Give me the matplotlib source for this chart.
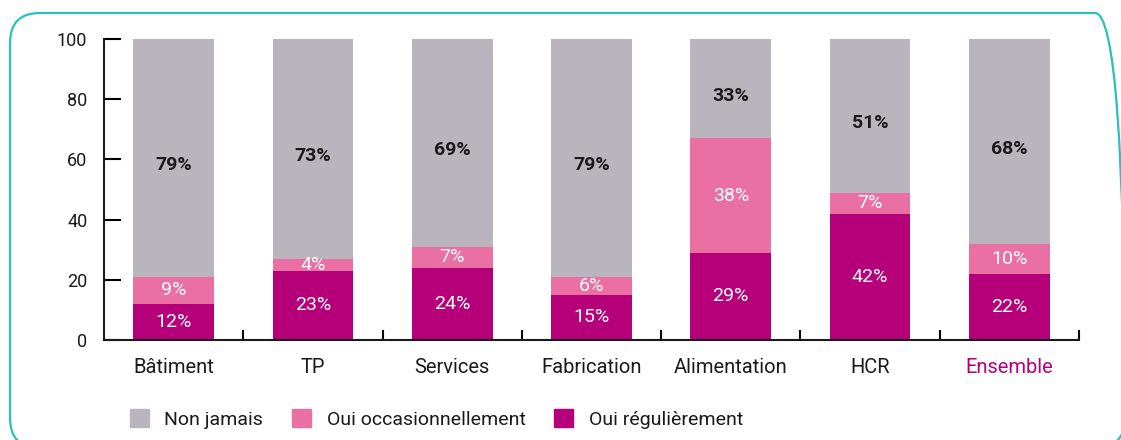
import matplotlib
matplotlib.use("Agg")
import matplotlib.pyplot as plt
from matplotlib.patches import FancyBboxPatch, Patch
import numpy as np

plt.rcParams['font.family'] = ['Roboto', 'DejaVu Sans']

categories = ["Bâtiment", "TP", "Services", "Fabrication", "Alimentation", "HCR", "Ensemble"]
regulierement = [12, 23, 24, 15, 29, 42, 22]
occasionnellement = [9, 4, 7, 6, 38, 7, 10]
non_jamais = [79, 73, 69, 79, 33, 51, 68]
yticks = [0, 20, 40, 60, 80, 100]

c_gray = "#BAB5BD"
c_pink = "#EA70A3"
c_mag = "#B5007A"
c_text = "#1a1a1a"

W, H = 1121, 440
fig = plt.figure(figsize=(W / 100, H / 100), dpi=100)

# rounded frame drawn in pixel coordinates (y measured from bottom)
bg = fig.add_axes([0, 0, 1, 1], zorder=-1)
bg.set_xlim(0, W)
bg.set_ylim(0, H)
bg.axis("off")
bg.add_patch(FancyBboxPatch((10, H - 448), 1125 - 10, 448 - 13,
                            boxstyle="round,pad=0,rounding_size=30",
                            fill=False, edgecolor="#2CBFC0", linewidth=1.6,
                            clip_on=False))

ax = fig.add_axes([104 / W, 1 - 340 / H, (1079 - 104) / W, (340 - 39) / H])
x = np.arange(len(categories))
bw = 0.58
b1 = np.array(regulierement)
b2 = b1 + np.array(occasionnellement)
ax.bar(x, regulierement, bw, color=c_mag, zorder=2)
ax.bar(x, occasionnellement, bw, bottom=b1, color=c_pink, zorder=2)
ax.bar(x, non_jamais, bw, bottom=b2, color=c_gray, zorder=2)

fs = 14
for i in range(len(categories)):
    ax.text(x[i], regulierement[i] / 2, f"{regulierement[i]}%", ha="center", va="center",
            color="white", fontsize=fs)
    ax.text(x[i], b1[i] + occasionnellement[i] / 2, f"{occasionnellement[i]}%", ha="center",
            va="center", color="white", fontsize=fs)
    ax.text(x[i], b2[i] + non_jamais[i] / 2 - 2.5, f"{non_jamais[i]}%", ha="center", va="center",
            color=c_text, fontsize=fs, fontweight="bold")

ax.set_xlim(-0.5, len(categories) - 0.5)
ax.set_ylim(0, 100)
ax.set_yticks(yticks)
ax.tick_params(axis="y", direction="in", length=12, width=1.5, pad=12, labelsize=13,
               labelcolor=c_text)
ax.set_xticks(x)
ax.set_xticklabels(categories)
ax.tick_params(axis="x", which="major", length=0, pad=13, labelsize=14.5, labelcolor=c_text)
ax.set_xticks(np.arange(len(categories)) + 0.5, minor=True)
ax.tick_params(axis="x", which="minor", direction="in", length=7, width=1.5)
ax.get_xticklabels()[-1].set_color(c_mag)
for s in ["top", "right"]:
    ax.spines[s].set_visible(False)
for s in ["left", "bottom"]:
    ax.spines[s].set_linewidth(1.5)
    ax.spines[s].set_color(c_text)

handles = [Patch(color=c_gray, label="Non jamais"),
           Patch(color=c_pink, label="Oui occasionnellement"),
           Patch(color=c_mag, label="Oui régulièrement")]
fig.legend(handles=handles, loc="center left", bbox_to_anchor=(112 / W, 1 - 419 / H),
           ncol=3, frameon=False, fontsize=14, handlelength=1.0, handleheight=1.0,
           handletextpad=0.8, columnspacing=1.45, labelcolor=c_text)

fig.savefig("out.png", dpi=100)
